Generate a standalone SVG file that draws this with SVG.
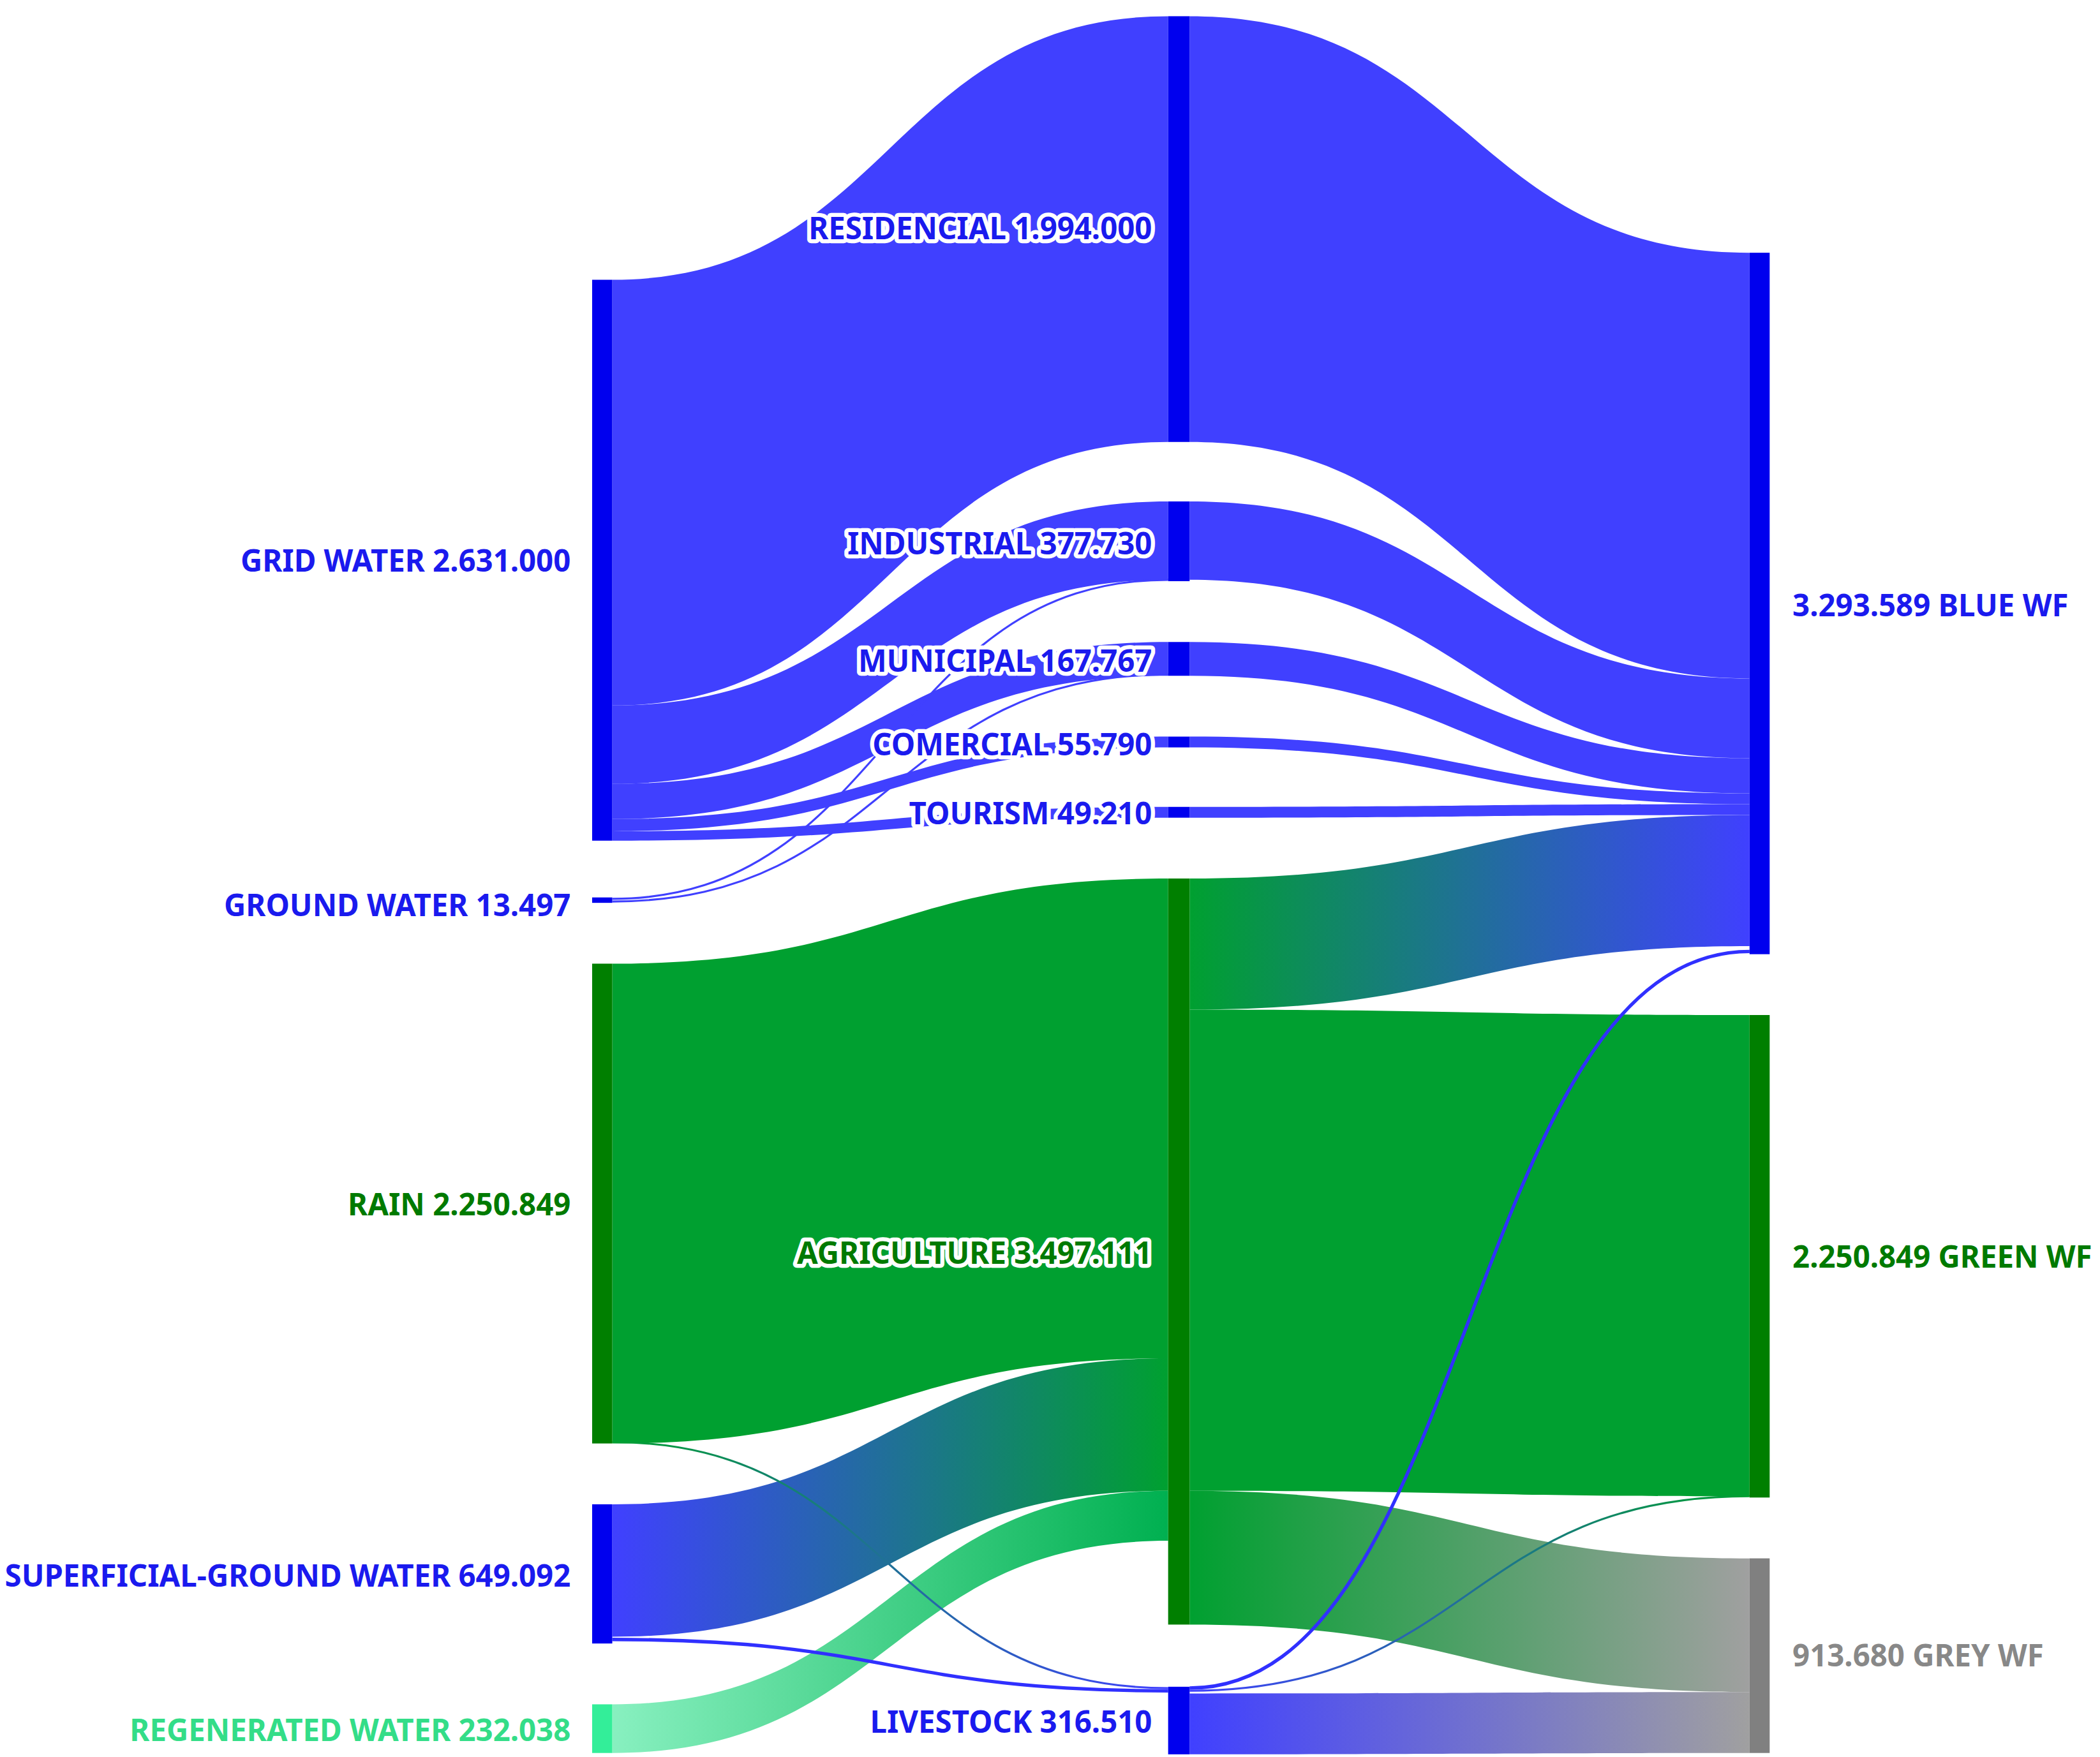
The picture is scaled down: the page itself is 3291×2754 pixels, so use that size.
<svg xmlns="http://www.w3.org/2000/svg" width="3291" height="2754" viewBox="0 0 3291 2754">
<style>
text{font-family:"Noto Sans","Liberation Sans",sans-serif;font-weight:bold;font-size:22.5px}
.l{text-anchor:end}
.m{text-anchor:end;paint-order:stroke;stroke:#fff;stroke-width:6px;stroke-linejoin:round}
.b{fill:#1a1aee}.g{fill:#007a00}.gr{fill:#888}.lg{fill:#33dd88}
.lb{fill:#4040ff}.lgn{fill:#00a030}
.tn{fill:none}
</style>
<defs>
<linearGradient id="bg"><stop offset="0" stop-color="#4040ff"/><stop offset="1" stop-color="#00a030"/></linearGradient>
<linearGradient id="gb"><stop offset="0" stop-color="#00a030"/><stop offset="1" stop-color="#4040ff"/></linearGradient>
<linearGradient id="rg"><stop offset="0" stop-color="#88f0c0"/><stop offset="1" stop-color="#00b050"/></linearGradient>
<linearGradient id="ggr"><stop offset="0" stop-color="#00a030"/><stop offset="1" stop-color="#a0a0a0"/></linearGradient>
<linearGradient id="bgr"><stop offset="0" stop-color="#4040ff"/><stop offset="1" stop-color="#a0a0a0"/></linearGradient>
</defs>
<rect width="3291" height="2754" fill="#fff"/>
<g transform="scale(2.1042,2.1185)">
<g id="connectors">
<path class="lb" d="M456 207C663 207 663 12 870 12L870 327C663 327 663 522 456 522Z"/>
<path class="lb" d="M456 522C663 522 663 371 870 371L870 429C663 429 663 580 456 580Z"/>
<path class="lb" d="M456 580C663 580 663 475 870 475L870 500C663 500 663 606 456 606Z"/>
<path class="lb" d="M456 606C663 606 663 545 870 545L870 553C663 553 663 615 456 615Z"/>
<path class="lb" d="M456 615C663 615 663 597 870 597L870 605C663 605 663 622 456 622Z"/>
<path class="tn" stroke="#4040ff" stroke-width="1.5" d="M456 665C663 665 663 429 870 429"/>
<path class="tn" stroke="#4040ff" stroke-width="1.5" d="M456 667C663 667 663 499 870 499"/>
<path class="lgn" d="M456 713C663 713 663 650 870 650L870 1005C663 1005 663 1068 456 1068Z"/>
<path fill="url(#bg)" d="M456 1113C663 1113 663 1005 870 1005L870 1103C663 1103 663 1211 456 1211Z"/>
<path fill="url(#rg)" d="M456 1261C663 1261 663 1103 870 1103L870 1140C663 1140 663 1297 456 1297Z"/>
<path class="tn" stroke="url(#gb)" stroke-width="1.5" d="M456 1067C663 1067 663 1249 870 1249"/>
<path class="tn" stroke="#3030ff" stroke-width="2.5" d="M456 1213C663 1213 663 1251 870 1251"/>
<path class="lb" d="M886 12C1094 12 1094 187 1303 187L1303 502C1094 502 1094 327 886 327Z"/>
<path class="lb" d="M886 371C1094 371 1094 502 1303 502L1303 561C1094 561 1094 429 886 429Z"/>
<path class="lb" d="M886 475C1094 475 1094 561 1303 561L1303 587C1094 587 1094 500 886 500Z"/>
<path class="lb" d="M886 545C1094 545 1094 587 1303 587L1303 595C1094 595 1094 553 886 553Z"/>
<path class="lb" d="M886 597C1094 597 1094 595 1303 595L1303 603C1094 603 1094 605 886 605Z"/>
<path fill="url(#gb)" d="M886 650C1094 650 1094 603 1303 603L1303 700C1094 700 1094 747 886 747Z"/>
<path class="lgn" d="M886 747C1094 747 1094 751 1303 751L1303 1107C1094 1107 1094 1103 886 1103Z"/>
<path fill="url(#ggr)" d="M886 1103C1094 1103 1094 1153 1303 1153L1303 1252C1094 1252 1094 1202 886 1202Z"/>
<path fill="url(#bgr)" d="M886 1253C1094 1253 1094 1252 1303 1252L1303 1297C1094 1297 1094 1298 886 1298Z"/>
<path class="tn" stroke="#3030ff" stroke-width="2.5" d="M886 1249C1094 1249 1094 704 1303 704"/>
<path class="tn" stroke="url(#bg)" stroke-width="1.5" d="M886 1251C1094 1251 1094 1107 1303 1107"/>
</g>
<g id="grid"><rect x="441" y="207" width="15" height="415" fill="#0000ee"/><text class="l b" x="425" y="423">GRID WATER 2.631.000</text></g>
<g id="ground"><rect x="441" y="664" width="15" height="4" fill="#0000ee"/><text class="l b" x="425" y="678">GROUND WATER 13.497</text></g>
<g id="rain"><rect x="441" y="713" width="15" height="355" fill="#007f00"/><text class="l g" x="425" y="899">RAIN 2.250.849</text></g>
<g id="superficial"><rect x="441" y="1113" width="15" height="103" fill="#0000ee"/><text class="l b" x="425" y="1174">SUPERFICIAL-GROUND WATER 649.092</text></g>
<g id="regenerated"><rect x="441" y="1261" width="15" height="36" fill="#33ee99"/><text class="l lg" x="425" y="1288">REGENERATED WATER 232.038</text></g>
<g id="residencial"><rect x="870" y="12" width="16" height="315" fill="#0000ee"/><text class="m b" x="858" y="177">RESIDENCIAL 1.994.000</text></g>
<g id="industrial"><rect x="870" y="371" width="16" height="59" fill="#0000ee"/><text class="m b" x="858" y="410">INDUSTRIAL 377.730</text></g>
<g id="municipal"><rect x="870" y="475" width="16" height="25" fill="#0000ee"/><text class="m b" x="858" y="497">MUNICIPAL 167.767</text></g>
<g id="comercial"><rect x="870" y="545" width="16" height="8" fill="#0000ee"/><text class="m b" x="858" y="559">COMERCIAL 55.790</text></g>
<g id="tourism"><rect x="870" y="597" width="16" height="8" fill="#0000ee"/><text class="m b" x="858" y="610">TOURISM 49.210</text></g>
<g id="agriculture"><rect x="870" y="650" width="16" height="552" fill="#007f00"/><text class="m g" x="858" y="935">AGRICULTURE 3.497.111</text></g>
<g id="livestock"><rect x="870" y="1248" width="16" height="50" fill="#0000ee"/><text class="m b" x="858" y="1282">LIVESTOCK 316.510</text></g>
<g id="bluewf"><rect x="1303" y="187" width="15" height="519" fill="#0000ee"/><text class="b" x="1335" y="456">3.293.589 BLUE WF</text></g>
<g id="greenwf"><rect x="1303" y="751" width="15" height="357" fill="#007f00"/><text class="g" x="1335" y="938">2.250.849 GREEN WF</text></g>
<g id="greywf"><rect x="1303" y="1153" width="15" height="144" fill="#808080"/><text class="gr" x="1335" y="1233">913.680 GREY WF</text></g>
</g>
</svg>
